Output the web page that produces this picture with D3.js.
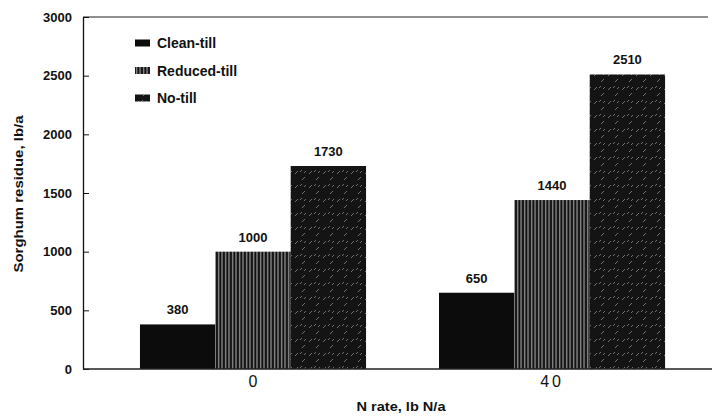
<!DOCTYPE html>
<html>
<head>
<meta charset="utf-8">
<script src="https://cdn.jsdelivr.net/npm/d3@7"></script>
<style>
  body { margin: 0; background: #fff; }
  svg { display: block; font-family: "Liberation Sans", Arial, sans-serif; }
  .axis path, .axis line { stroke: #111; }
  .axis text { fill: #111; }
</style>
</head>
<body>
<div id="chart"></div>
<script>
// Data
const nRates = ['0', '40'];
const systems = ['Clean-till', 'Reduced-till', 'No-till'];
const cleanTill = [380, 650];
const reducedTill = [1000, 1440];
const noTill = [1730, 2510];
const yTicks = [0, 500, 1000, 1500, 2000, 2500, 3000];

const width = 712;
const height = 417;

const svg = d3.select('#chart')
  .append('svg')
  .attr('width', width)
  .attr('height', height);

// Fill textures (scanned print look)
const defs = svg.append('defs');

const stripes = defs.append('pattern')
  .attr('id', 'pat-reduced')
  .attr('patternUnits', 'userSpaceOnUse')
  .attr('width', 3.5)
  .attr('height', 4);
stripes.append('rect').attr('width', 3.5).attr('height', 4).attr('fill', '#121212');
stripes.append('rect').attr('x', 1).attr('width', 1.2).attr('height', 4).attr('fill', '#9c9c9c');

const speckle = defs.append('pattern')
  .attr('id', 'pat-notill')
  .attr('patternUnits', 'userSpaceOnUse')
  .attr('width', 14)
  .attr('height', 14);
speckle.append('rect').attr('width', 14).attr('height', 14).attr('fill', '#141414');
[[1, 6, 4, 3], [8, 12, 11, 9], [6, 4, 8, 2], [10, 5, 12, 3]].forEach(s => {
  speckle.append('line')
    .attr('x1', s[0]).attr('y1', s[1]).attr('x2', s[2]).attr('y2', s[3])
    .attr('stroke', '#7a7a7a')
    .attr('stroke-width', 0.9);
});

const fills = {
  'Clean-till': '#0c0c0c',
  'Reduced-till': 'url(#pat-reduced)',
  'No-till': 'url(#pat-notill)'
};

const values = { 'Clean-till': cleanTill, 'Reduced-till': reducedTill, 'No-till': noTill };

const plot = { left: 83, right: 705, top: 17, bottom: 369 };

const x0 = d3.scaleBand()
  .domain(nRates)
  .range([plot.left, plot.right])
  .paddingInner(0.244)
  .paddingOuter(0.162)
  .align(0.588);

const x1 = d3.scaleBand()
  .domain(systems)
  .range([0, x0.bandwidth()]);

const y = d3.scaleLinear()
  .domain([0, 3000])
  .range([plot.bottom, plot.top]);

// Top frame line
svg.append('line')
  .attr('x1', plot.left).attr('x2', 708)
  .attr('y1', y(3000)).attr('y2', y(3000))
  .attr('stroke', '#222')
  .attr('stroke-width', 1.2);

// Y axis with inward ticks
const yAxis = svg.append('g')
  .attr('class', 'axis')
  .attr('transform', `translate(${plot.left},0)`)
  .call(d3.axisLeft(y)
    .tickValues(yTicks)
    .tickFormat(d3.format('d'))
    .tickSizeInner(-6)
    .tickSizeOuter(0)
    .tickPadding(11));
yAxis.select('.domain').attr('stroke-width', 1.3);
yAxis.selectAll('text')
  .style('font-size', '13px')
  .style('font-weight', 'bold');

// Bars
const groups = svg.append('g')
  .selectAll('g')
  .data(nRates)
  .join('g')
  .attr('transform', d => `translate(${x0(d)},0)`);

const barData = (rate, i) => systems.map(s => ({ system: s, value: values[s][i] }));

groups.selectAll('rect')
  .data(barData)
  .join('rect')
  .attr('x', d => x1(d.system))
  .attr('y', d => y(d.value))
  .attr('width', x1.bandwidth())
  .attr('height', d => y(0) - y(d.value))
  .attr('fill', d => fills[d.system]);

groups.selectAll('text')
  .data(barData)
  .join('text')
  .attr('x', d => x1(d.system) + x1.bandwidth() / 2)
  .attr('y', d => y(d.value) - 10)
  .attr('text-anchor', 'middle')
  .style('font-size', '13px')
  .style('font-weight', 'bold')
  .attr('fill', '#111')
  .text(d => d.value);

// X axis baseline and category labels
svg.append('line')
  .attr('x1', plot.left).attr('x2', 712)
  .attr('y1', y(0)).attr('y2', y(0))
  .attr('stroke', '#222')
  .attr('stroke-width', 1.3);

svg.append('g')
  .selectAll('text')
  .data(nRates)
  .join('text')
  .attr('x', d => x0(d) + x0.bandwidth() / 2)
  .attr('y', 387)
  .attr('text-anchor', 'middle')
  .style('font-size', '16px')
  .style('letter-spacing', d => d.length > 1 ? '3px' : null)
  .attr('fill', '#111')
  .text(d => d);

// Axis titles
svg.append('text')
  .attr('x', 401)
  .attr('y', 411)
  .attr('text-anchor', 'middle')
  .attr('textLength', 89)
  .attr('lengthAdjust', 'spacingAndGlyphs')
  .style('font-size', '12.5px')
  .style('font-weight', 'bold')
  .attr('fill', '#111')
  .text('N rate, lb N/a');

svg.append('text')
  .attr('transform', 'translate(23,194) rotate(-90)')
  .attr('text-anchor', 'middle')
  .attr('textLength', 157)
  .attr('lengthAdjust', 'spacingAndGlyphs')
  .style('font-size', '12.5px')
  .style('font-weight', 'bold')
  .attr('fill', '#111')
  .text('Sorghum residue, lb/a');

// Legend
const legend = svg.append('g')
  .selectAll('g')
  .data(systems)
  .join('g')
  .attr('transform', (d, i) => `translate(135,${43 + i * 27.5})`);

legend.append('rect')
  .attr('x', 0)
  .attr('y', -3.5)
  .attr('width', 15)
  .attr('height', 7)
  .attr('fill', d => fills[d]);

legend.append('text')
  .attr('x', 22)
  .attr('y', 0)
  .attr('dy', '0.36em')
  .style('font-size', '14px')
  .style('font-weight', 'bold')
  .attr('fill', '#111')
  .text(d => d);
</script>
</body>
</html>
